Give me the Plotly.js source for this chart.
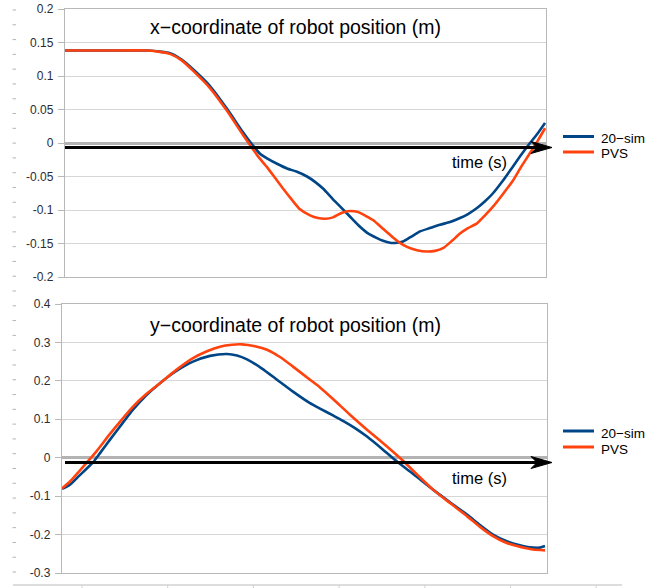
<!DOCTYPE html>
<html><head><meta charset="utf-8">
<script src="https://cdn.plot.ly/plotly-3.0.1.min.js"></script>
<style>html,body{margin:0;padding:0;background:#fff}#chart{width:669px;height:588px}</style>
</head><body><div id="chart"></div>
<script>
// ---- data (time in samples, position in m) ----
const timeTopSim = [0,35,83,95,105,117,128,145,162,178,188,195,202,212,222,232,242,250,258,268,280,287,295,303,312,318,325,332,338,345,355,365,375,385,395,403,412,420,428,438,448,456,465,473,480];
const xSim = [0.138,0.138,0.138,0.1365,0.134,0.124,0.110,0.085,0.051,0.016,-0.004,-0.016,-0.023,-0.031,-0.038,-0.043,-0.050,-0.058,-0.068,-0.084,-0.102,-0.113,-0.125,-0.135,-0.142,-0.146,-0.149,-0.149,-0.147,-0.141,-0.132,-0.127,-0.122,-0.118,-0.112,-0.106,-0.097,-0.087,-0.075,-0.056,-0.035,-0.018,0.0,0.015,0.030];
const timeTopPvs = [0,35,83,95,105,117,128,145,162,178,185,193,202,210,218,227,235,245,253,260,268,277,285,293,301,308,318,328,335,342,352,362,370,378,387,395,403,412,420,428,438,448,456,465,473,480];
const xPvs = [0.138,0.138,0.138,0.136,0.133,0.123,0.108,0.082,0.048,0.012,-0.003,-0.020,-0.036,-0.052,-0.068,-0.085,-0.099,-0.108,-0.112,-0.113,-0.111,-0.104,-0.1015,-0.103,-0.109,-0.115,-0.128,-0.141,-0.149,-0.155,-0.160,-0.162,-0.161,-0.157,-0.146,-0.135,-0.127,-0.120,-0.108,-0.095,-0.076,-0.056,-0.036,-0.015,0.004,0.022];
const timeBotSim = [0,8,16,24,31,38,48,60,71,84,98,114,131,148,165,175,185,200,215,231,248,258,271,281,293,305,321,335,353,371,388,405,418,431,443,455,463,471,478,483];
const ySim = [-0.081,-0.070,-0.050,-0.030,-0.012,0.012,0.047,0.088,0.125,0.162,0.194,0.225,0.250,0.265,0.270,0.266,0.256,0.232,0.203,0.172,0.142,0.128,0.110,0.096,0.077,0.055,0.021,-0.010,-0.046,-0.083,-0.116,-0.148,-0.175,-0.200,-0.215,-0.226,-0.231,-0.234,-0.234,-0.230];
const timeBotPvs = [0,8,18,25,33,48,60,71,84,98,114,131,145,158,170,180,193,205,218,231,248,258,271,288,305,325,341,356,371,388,405,418,431,443,455,463,471,483];
const yPvs = [-0.080,-0.062,-0.033,-0.012,0.012,0.062,0.100,0.133,0.165,0.194,0.228,0.259,0.277,0.289,0.294,0.295,0.290,0.281,0.262,0.237,0.203,0.183,0.153,0.112,0.073,0.029,-0.008,-0.046,-0.083,-0.118,-0.152,-0.180,-0.204,-0.220,-0.230,-0.235,-0.239,-0.241];

const seriesNames = ['20\u2212sim', 'PVS'];
const seriesColors = ['#004586', '#ff420e'];
const yTopTickVals = [0.2,0.15,0.1,0.05,0,-0.05,-0.1,-0.15,-0.2];
const yTopTickText = ['0.2','0.15','0.1','0.05','0','-0.05','-0.1','-0.15','-0.2'];
const yBotTickVals = [0.4,0.3,0.2,0.1,0,-0.1,-0.2,-0.3];
const yBotTickText = ['0.4','0.3','0.2','0.1','0','-0.1','-0.2','-0.3'];
const chartTitles = ['x\u2212coordinate of robot position (m)', 'y\u2212coordinate of robot position (m)'];
const timeLabel = 'time (s)';

// ---- layout helpers ----
const W = 669, H = 588;
const px = v => v / W, py = v => 1 - v / H;
const FONT = '"Liberation Sans", Arial, sans-serif';

function line(t, y, i, xa, ya) {
  return {x: t, y: y, xaxis: xa, yaxis: ya, type: 'scatter', mode: 'lines',
    name: seriesNames[i], showlegend: false,
    line: {color: seriesColors[i], width: 2.6, shape: 'spline', smoothing: 0.6}};
}
const traces = [
  line(timeTopSim, xSim, 0, 'x', 'y'),
  line(timeTopPvs, xPvs, 1, 'x', 'y'),
  line(timeBotSim, ySim, 0, 'x2', 'y2'),
  line(timeBotPvs, yPvs, 1, 'x2', 'y2')
];

const axisCommon = {showline: true, mirror: true, linecolor: '#b8b8b8', linewidth: 1.2};
const yCommon = Object.assign({}, axisCommon, {
  showgrid: true, gridcolor: '#d6d6d6', gridwidth: 1,
  zeroline: true, zerolinecolor: '#b3b3b3', zerolinewidth: 3,
  ticks: 'outside', ticklen: 6, tickcolor: '#b8b8b8', tickmode: 'array',
  tickfont: {family: FONT, size: 12, color: '#2b2b33'}, ticklabelstandoff: 2
});
const xCommon = Object.assign({}, axisCommon, {showgrid: false, zeroline: false, showticklabels: false, ticks: ''});

const shapes = [];
const annotations = [];

// black time arrows
function arrow(yPix) {
  shapes.push({type: 'line', xref: 'paper', yref: 'paper', x0: px(65), x1: px(540), y0: py(yPix), y1: py(yPix),
    line: {color: '#000', width: 3}});
  shapes.push({type: 'path', xref: 'paper', yref: 'paper', fillcolor: '#000', line: {color: '#000', width: 1},
    path: `M ${px(531)},${py(yPix-6)} L ${px(552)},${py(yPix)} L ${px(531)},${py(yPix+6)} L ${px(537)},${py(yPix)} Z`});
}
arrow(147.5);
arrow(462.5);

// manual legends
function legend(yBlue, yRed, yTxt1, yTxt2) {
  [[yBlue, yTxt1], [yRed, yTxt2]].forEach((p, i) => {
    shapes.push({type: 'line', xref: 'paper', yref: 'paper', x0: px(563), x1: px(594), y0: py(p[0]), y1: py(p[0]),
      line: {color: seriesColors[i], width: 3}});
    annotations.push({xref: 'paper', yref: 'paper', x: px(600), y: py(p[1]), xanchor: 'left', yanchor: 'middle',
      height: 13, valign: 'middle', borderpad: 0,
      text: seriesNames[i], showarrow: false, font: {family: FONT, size: 13.5, color: '#000'}});
  });
}
legend(136.5, 152, 138, 154);
legend(431, 447, 433, 449);

// titles & time labels
annotations.push({xref: 'paper', yref: 'paper', x: px(295.5), y: py(27), xanchor: 'center', yanchor: 'middle',
  text: chartTitles[0], showarrow: false, font: {family: FONT, size: 19.5, color: '#000'}});
annotations.push({xref: 'paper', yref: 'paper', x: px(295.5), y: py(325), xanchor: 'center', yanchor: 'middle',
  text: chartTitles[1], showarrow: false, font: {family: FONT, size: 19.5, color: '#000'}});
annotations.push({xref: 'paper', yref: 'paper', x: px(479.5), y: py(162), xanchor: 'center', yanchor: 'middle',
  text: timeLabel, showarrow: false, font: {family: FONT, size: 16.5, color: '#000'}});
annotations.push({xref: 'paper', yref: 'paper', x: px(479.5), y: py(478), xanchor: 'center', yanchor: 'middle',
  text: timeLabel, showarrow: false, font: {family: FONT, size: 16.5, color: '#000'}});

// page ruler decorations
for (let k = 0; k < 39; k++) {
  const yy = 10 + k * 14.79;
  shapes.push({type: 'line', xref: 'paper', yref: 'paper', x0: px(12.5), x1: px(16), y0: py(yy), y1: py(yy),
    line: {color: '#b5b5b5', width: 1}});
}
shapes.push({type: 'line', xref: 'paper', yref: 'paper', x0: px(13), x1: px(622), y0: py(585), y1: py(585),
  line: {color: '#d2d2d2', width: 1.5}});
for (let k = 0; k < 7; k++) {
  const xx = 82 + k * 85.7;
  shapes.push({type: 'line', xref: 'paper', yref: 'paper', x0: px(xx), x1: px(xx), y0: py(585), y1: py(588),
    line: {color: '#d2d2d2', width: 1}});
}

const layout = {
  width: W, height: H, margin: {l: 0, r: 0, t: 0, b: 0},
  paper_bgcolor: '#fff', plot_bgcolor: '#fff', showlegend: false,
  font: {family: FONT},
  xaxis: Object.assign({}, xCommon, {domain: [px(65), px(546)], range: [0, 481], anchor: 'y'}),
  yaxis: Object.assign({}, yCommon, {domain: [1 - 277 / H, 1 - 9 / H], range: [-0.2, 0.2], anchor: 'x',
    tickvals: yTopTickVals, ticktext: yTopTickText}),
  xaxis2: Object.assign({}, xCommon, {domain: [px(62), px(547)], range: [0, 485], anchor: 'y2'}),
  yaxis2: Object.assign({}, yCommon, {domain: [1 - 573 / H, 1 - 304 / H], range: [-0.3, 0.4], anchor: 'x2',
    tickvals: yBotTickVals, ticktext: yBotTickText}),
  shapes: shapes,
  annotations: annotations
};

Plotly.newPlot('chart', traces, layout, {staticPlot: true, displayModeBar: false});
</script>
</body></html>
